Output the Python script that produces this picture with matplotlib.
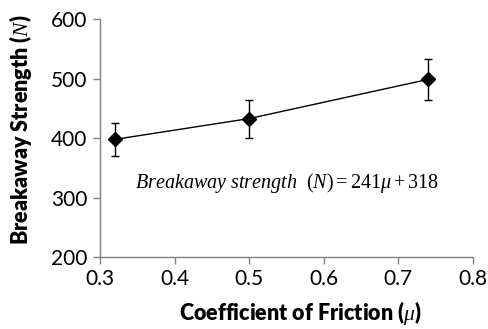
import numpy as np
import matplotlib
matplotlib.use("Agg")
import matplotlib.pyplot as plt

mu = [0.32, 0.50, 0.74]
strength = [398, 433, 499]
err = [28, 32, 35]

x_ticks = [0.3, 0.4, 0.5, 0.6, 0.7, 0.8]
y_ticks = [200, 300, 400, 500, 600]

plt.rcParams['font.family'] = ['Lato', 'DejaVu Sans']
plt.rcParams['mathtext.fontset'] = 'custom'
plt.rcParams['mathtext.rm'] = 'Liberation Serif'
plt.rcParams['mathtext.it'] = 'Liberation Serif:italic'

fig = plt.figure(figsize=(4.88, 3.29), dpi=100)
ax = fig.add_axes([0.205, 0.219, 0.764, 0.722])

ax.errorbar(mu, strength, yerr=err, fmt='D-', color='black', markersize=7.5,
            linewidth=1.0, elinewidth=1.0, capsize=3, capthick=1.0)

ax.set_xlim(0.3, 0.8)
ax.set_ylim(200, 600)
ax.set_xticks(x_ticks)
ax.set_yticks(y_ticks)
ax.set_xticklabels([f'{t:.1f}' for t in x_ticks])
ax.set_yticklabels([str(t) for t in y_ticks])

for s in ['top', 'right']:
    ax.spines[s].set_visible(False)
for s in ['left', 'bottom']:
    ax.spines[s].set_color('#808080')
    ax.spines[s].set_linewidth(1.0)
ax.tick_params(direction='out', length=5, width=1.0, color='#808080',
               labelsize=15, pad=4)

ax.set_xlabel('Coefficient of Friction ($\\mu$)', fontsize=15.5, fontweight='heavy')
ax.set_ylabel('Breakaway Strength ($N$)', fontsize=15.5, fontweight='heavy')
ax.xaxis.set_label_coords(0.536, -0.178)
ax.yaxis.set_label_coords(-0.176, 0.535)

ax.text(0.55, 324, r'$\mathit{Breakaway\ strength}\ \ (N) = 241\mu + 318$',
        fontsize=14.5, ha='center', va='center')

fig.savefig('out.png', dpi=100)
